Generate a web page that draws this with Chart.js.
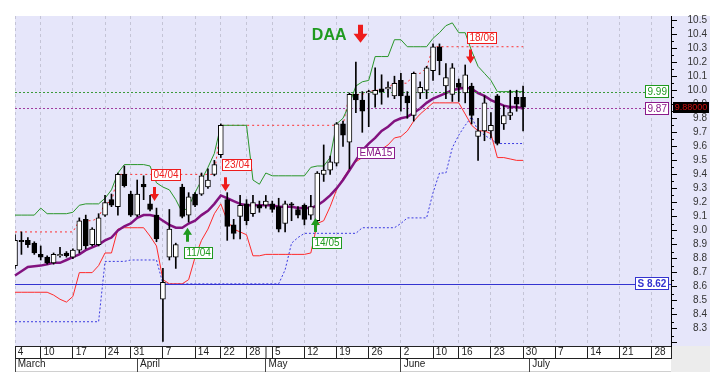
<!DOCTYPE html>
<html><head><meta charset="utf-8">
<script src="https://cdn.jsdelivr.net/npm/chart.js@4.4.1/dist/chart.umd.min.js"></script>
<style>html,body{margin:0;padding:0;background:#fff;overflow:hidden}</style>
</head><body>
<canvas id="c" width="724" height="383"></canvas>
<script>
// ---------- categories (trading days, 2014) ----------
const dates = [
 '03-04','03-05','03-06','03-07','03-10','03-11','03-12','03-13','03-14','03-17','03-18','03-19','03-20','03-21','03-24','03-25','03-26','03-27','03-31',
 '04-01','04-02','04-03','04-04','04-07','04-08','04-09','04-10','04-11','04-14','04-15','04-16','04-17','04-22','04-23','04-24','04-25','04-28','04-29','04-30',
 '05-02','05-05','05-06','05-07','05-08','05-09','05-12','05-13','05-14','05-15','05-16','05-19','05-20','05-21','05-22','05-23','05-26','05-27','05-28','05-29','05-30',
 '06-02','06-03','06-04','06-05','06-06','06-10','06-11','06-12','06-13','06-16','06-17','06-18','06-19','06-20','06-23','06-24','06-25','06-26','06-27','06-30',
 '07-01','07-02','07-03','07-04','07-07','07-08','07-09','07-10','07-11','07-14','07-15','07-16','07-17','07-18','07-21','07-22','07-23','07-24','07-25','07-28','07-29','07-30','07-31'
];
const weekTicks = ['03-04','03-10','03-17','03-24','03-31','04-07','04-14','04-22','04-28','05-05','05-12','05-19','05-26','06-02','06-10','06-16','06-23','06-30','07-07','07-14','07-21','07-28'];
const extraSeparators = ['05-02'];
const monthStarts = ['03-04','04-01','05-02','06-02','07-01'];
const monthNames = ['March','April','May','June','July'];
const yTicks = [8.2,8.3,8.4,8.5,8.6,8.7,8.8,8.9,9.0,9.1,9.2,9.3,9.4,9.5,9.6,9.7,9.8,9.9,10.0,10.1,10.2,10.3,10.4,10.5];

// ---------- price series ----------
const opens = [8.75,8.93,8.93,8.91,8.83,8.81,8.77,8.82,8.84,8.81, 8.86,9.08,8.90,8.90,9.11,9.22,9.17,9.40,9.26,9.11, 9.33,9.19,9.11,8.51,8.81,8.81,9.31,9.11,9.26,9.26, 9.31,9.40,9.54,9.22,9.04,9.10,9.19,9.12,9.18,9.18, 9.19,9.17,9.05,9.19,9.15,9.18,9.11,9.07,9.40,9.43, 9.48,9.76,9.63,9.97,9.93,9.98,9.97,10.01,10.01,9.96, 10.07,9.96,9.82,9.98,10.00,10.14,10.31,10.03,9.97,10.05, 9.98,10.03,9.67,9.71,9.71,9.96,9.76,9.82,9.95,9.95];
const highs = [8.97,8.99,8.95,8.92,8.89,8.82,8.84,8.88,8.85,8.87, 9.09,9.11,9.02,9.12,9.25,9.26,9.41,9.46,9.28,9.36, 9.39,9.25,9.16,8.73,9.15,8.91,9.33,9.27,9.27,9.41, 9.44,9.50,9.76,9.27,9.08,9.25,9.22,9.25,9.21,9.25, 9.21,9.23,9.21,9.20,9.17,9.19,9.25,9.42,9.61,9.53, 9.77,9.78,9.98,10.20,9.99,10.00,10.16,10.11,10.06,10.10, 10.12,9.99,10.13,10.06,10.17,10.33,10.33,10.19,10.19,10.08, 10.18,10.05,9.80,9.96,9.84,9.97,9.89,10.00,10.00,10.03];
const lows = [8.73,8.83,8.88,8.83,8.79,8.76,8.76,8.81,8.81,8.80, 8.84,8.87,8.89,8.89,9.10,9.17,9.11,9.31,9.10,9.10, 9.22,9.14,8.92,8.21,8.79,8.73,9.09,9.06,9.17,9.25, 9.30,9.39,9.52,8.93,8.94,8.94,9.04,9.10,9.13,9.16, 9.13,8.99,8.99,9.07,9.09,9.04,9.08,9.05,9.35,9.40, 9.46,9.60,9.44,9.84,9.70,9.74,9.88,9.90,9.95,9.94, 9.85,9.80,9.78,9.94,9.94,10.07,10.11,9.94,9.92,9.92, 9.91,9.76,9.50,9.64,9.66,9.61,9.72,9.79,9.85,9.71];
const closes = [8.93,8.92,8.90,8.84,8.81,8.77,8.83,8.83,8.82,8.86, 9.07,8.89,9.01,9.09,9.20,9.18,9.40,9.32,9.11,9.26, 9.31,9.15,8.94,8.63,9.01,8.90,9.10,9.24,9.18,9.39, 9.36,9.47,9.75,9.03,8.98,9.18,9.07,9.20,9.16,9.21, 9.15,9.01,9.19,9.18,9.11,9.08,9.17,9.41,9.43,9.49, 9.76,9.68,9.97,9.93,9.85,9.99,10.00,9.99,10.02,10.05, 9.96,9.91,10.12,10.02,10.16,10.31,10.21,10.09,10.16,10.02, 10.11,9.82,9.71,9.91,9.75,9.62,9.82,9.84,9.90,9.88];

// ---------- indicator series ----------
const ema15 = [8.68,8.71,8.74,8.745,8.75,8.76,8.77,8.77,8.79,8.81, 8.83,8.86,8.88,8.90,8.93,8.95,9.00,9.03,9.05,9.09, 9.11,9.11,9.10,9.07,9.04,9.02,9.02,9.05,9.07,9.11, 9.14,9.19,9.25,9.23,9.21,9.19,9.18,9.18,9.18,9.18, 9.18,9.17,9.17,9.17,9.16,9.16,9.16,9.18,9.21,9.25, 9.30,9.36,9.43,9.50,9.57,9.62,9.66,9.71,9.74,9.78, 9.80,9.81,9.84,9.87,9.91,9.94,9.96,9.98,10.00,10.01, 10.02,10.01,9.98,9.96,9.93,9.91,9.89,9.88,9.88,9.87];
const upperBand = [9.11,9.11,9.11,9.11,9.16,9.12,9.12,9.12,9.12,9.13, 9.18,9.19,9.19,9.19,9.23,9.29,9.41,9.47,9.47,9.47, 9.47,9.46,9.34,9.31,9.29,9.22,9.13,9.17,9.27,9.36, 9.45,9.55,9.75,9.75,9.75,9.75,9.75,9.36,9.33,9.41, 9.39,9.39,9.39,9.39,9.39,9.39,9.45,9.46,9.46,9.52, 9.76,9.80,9.90,10.03,10.06,10.07,10.24,10.24,10.24,10.36, 10.36,10.31,10.31,10.31,10.31,10.37,10.41,10.46,10.48,10.41, 10.41,10.28,10.17,10.12,10.07,9.99,9.99,9.99,9.99,9.99];
const lowerBand = [8.56,8.56,8.56,8.56,8.56,8.56,8.54,8.51,8.49,8.53, 8.70,8.70,8.70,8.75,8.84,8.84,9.01,9.02,9.02,9.02, 9.02,8.96,8.89,8.65,8.62,8.62,8.62,8.65,8.81,8.93, 9.01,9.12,9.19,9.07,9.01,8.99,8.97,8.82,8.82,8.83, 8.83,8.83,8.83,8.83,8.83,8.83,8.84,9.05,9.07,9.17, 9.29,9.37,9.44,9.49,9.52,9.54,9.56,9.58,9.61,9.66, 9.67,9.71,9.78,9.83,9.87,9.91,9.91,9.91,9.91,9.91, 9.83,9.75,9.71,9.71,9.69,9.52,9.52,9.51,9.50,9.50];
const supportLine = [8.35,8.35,8.35,8.35,8.35,8.35,8.35,8.35,8.35,8.35, 8.35,8.35,8.35,8.35,8.78,8.78,8.78,8.78,8.79,8.79, 8.79,8.79,8.79,8.62,8.62,8.62,8.62,8.62,8.62,8.62, 8.62,8.62,8.62,8.62,8.62,8.62,8.62,8.62,8.62,8.62, 8.62,8.62,8.72,8.91,8.95,8.98,8.98,8.98,8.98,8.98, 8.98,8.98,8.98,8.98,9.02,9.02,9.02,9.02,9.02,9.02, 9.05,9.09,9.09,9.09,9.09,9.27,9.41,9.41,9.59,9.68, 9.75,9.81,9.71,9.68,9.65,9.62,9.62,9.62,9.62,9.62];
const resistLine = [8.99,8.99,8.99,8.99,8.99,8.99,8.99,8.99,8.99,8.99, 9.07,9.07,9.07,9.09,9.20,9.20,9.40,9.40,9.40,9.40, 9.40,9.40,9.40,9.40,9.40,9.40,9.40,9.40,9.40,9.40, 9.40,9.40,9.75,9.75,9.75,9.75,9.75,9.75,9.75,9.75, 9.75,9.75,9.75,9.75,9.75,9.75,9.75,9.75,9.75,9.75, 9.75,9.75,9.97,9.97,9.97,9.99,10.00,10.00,10.02,10.05, 10.05,10.05,10.12,10.12,10.16,10.31,10.31,10.31,10.31,10.31, 10.31,10.31,10.31,10.31,10.31,10.31,10.31,10.31,10.31,10.31];

// ---------- levels & annotations ----------
const upperLevel = 9.99;
const emaLevel = 9.87;
const supportLevel = 8.62;
const lastPrice = 9.88;
const signals = [
  {i: 22, kind: 'sell', text: '04/04', at: 9.21},
  {i: 27, kind: 'buy',  text: '11/04', at: 9.02},
  {i: 33, kind: 'sell', text: '23/04', at: 9.28},
  {i: 47, kind: 'buy',  text: '14/05', at: 9.09},
  {i: 71, kind: 'sell', text: '18/06', at: 10.19}
];
const emaTag = {i: 53, at: 9.555, text: 'EMA15'};
const titleTag = {i: 46, at: 10.36, text: 'DAA'};

// ---------- helpers ----------
const FONT = 'Liberation Sans, Arial, sans-serif';
const weekSet = new Set(weekTicks), extraSet = new Set(extraSeparators), monthSet = new Set(monthStarts);
const isWeek = i => weekSet.has(dates[i]);
const isMonth = i => monthSet.has(dates[i]);
const RED = '#ee1c1c', GREEN = '#1f9a1f', PURPLE = '#8a1a8a', BLUE = '#3434d0';

function arrow(ctx, x, tipY, dir, len, shaftW, headW, color) {
  const hh = len * 0.5;
  ctx.fillStyle = color;
  ctx.beginPath();
  ctx.moveTo(x - shaftW / 2, tipY - dir * len);
  ctx.lineTo(x + shaftW / 2, tipY - dir * len);
  ctx.lineTo(x + shaftW / 2, tipY - dir * hh);
  ctx.lineTo(x + headW / 2, tipY - dir * hh);
  ctx.lineTo(x, tipY);
  ctx.lineTo(x - headW / 2, tipY - dir * hh);
  ctx.lineTo(x - shaftW / 2, tipY - dir * hh);
  ctx.closePath();
  ctx.fill();
}
function tag(ctx, text, left, top, h, color, font, fill) {
  ctx.font = font;
  const w = Math.round(ctx.measureText(text).width + 4);
  left = Math.round(left); top = Math.round(top);
  ctx.fillStyle = fill || '#fff';
  ctx.fillRect(left, top, w, h);
  ctx.strokeStyle = color; ctx.lineWidth = 1;
  ctx.strokeRect(left + 0.5, top + 0.5, w, h);
  ctx.fillStyle = color; ctx.textAlign = 'left'; ctx.textBaseline = 'middle';
  ctx.fillText(text, left + 2.5, top + h / 2 + 1);
  return w;
}

const bgPlugin = {
  id: 'bg',
  beforeDraw(chart) {
    const {ctx, chartArea: a} = chart;
    const xs = chart.scales.x, x2 = chart.scales.x2, ys = chart.scales.y;
    ctx.save();
    ctx.fillStyle = '#ffffff'; ctx.fillRect(0, 0, chart.width, chart.height);
    ctx.fillStyle = '#e6e6fa'; ctx.fillRect(a.left, a.top, ys.right + 3 - a.left, a.bottom - a.top);
    ctx.fillStyle = '#ffffff'; ctx.fillRect(a.left, xs.top, a.right - a.left, x2.bottom - xs.top);
    ctx.fillStyle = '#ececec'; ctx.fillRect(a.right, xs.top, ys.right + 3 - a.right, x2.bottom - xs.top);
    ctx.strokeStyle = '#222'; ctx.lineWidth = 1;
    ctx.beginPath(); ctx.moveTo(a.right + 0.5, xs.top); ctx.lineTo(a.right + 0.5, xs.bottom); ctx.stroke();
    ctx.strokeStyle = '#d0d0d0';
    ctx.beginPath(); ctx.moveTo(a.left, x2.bottom - 0.5); ctx.lineTo(a.right, x2.bottom - 0.5); ctx.stroke();
    ctx.restore();
  },
  beforeDatasetDraw(chart, args) {
    if (args.index !== 1) return; // level lines just below the candles
    const {ctx, chartArea: a} = chart;
    const ys = chart.scales.y;
    const lvl = (v, color, dash) => {
      const y = Math.round(ys.getPixelForValue(v)) + 0.5;
      ctx.strokeStyle = color; ctx.lineWidth = 1; ctx.setLineDash(dash);
      ctx.beginPath(); ctx.moveTo(a.left, y); ctx.lineTo(a.right, y); ctx.stroke();
    };
    ctx.save();
    ctx.beginPath(); ctx.rect(a.left, a.top, a.right - a.left, a.bottom - a.top); ctx.clip();
    lvl(upperLevel, '#3a9a3a', [2, 2]);
    lvl(emaLevel, '#a03ca0', [2, 2]);
    lvl(supportLevel, BLUE, []);
    ctx.restore();
  },
  afterDatasetsDraw(chart) {
    const {ctx, chartArea: a} = chart;
    const xs = chart.scales.x, ys = chart.scales.y;
    ctx.save();
    signals.forEach(s => {
      const x = Math.round(xs.getPixelForValue(s.i)) - 1.5;
      const tip = ys.getPixelForValue(s.at);
      const f = '10px ' + FONT;
      if (s.kind === 'sell') {
        arrow(ctx, x, tip, 1, 14, 3, 9, RED);
        tag(ctx, s.text, x - 4, tip - 14 - 6 - 12, 11, RED, f);
      } else {
        arrow(ctx, x, tip, -1, 14, 3, 9, GREEN);
        tag(ctx, s.text, x - 4, tip + 14 + 5, 11, GREEN, f);
      }
    });
    tag(ctx, emaTag.text, xs.getPixelForValue(emaTag.i) + 1, ys.getPixelForValue(emaTag.at) - 6, 11, PURPLE, '10px ' + FONT);
    const tx = xs.getPixelForValue(titleTag.i) + 1, ty = ys.getPixelForValue(titleTag.at);
    ctx.font = 'bold 16px ' + FONT; ctx.fillStyle = GREEN; ctx.textAlign = 'left'; ctx.textBaseline = 'alphabetic';
    ctx.fillText(titleTag.text, tx, ty);
    const tw = ctx.measureText(titleTag.text).width;
    arrow(ctx, tx + tw + 14, ty + 3, 1, 18, 5, 14, RED);
    const right = a.right - 3;
    const rtag = (text, v, color, font) => {
      ctx.font = font;
      const w = Math.round(ctx.measureText(text).width + 4);
      tag(ctx, text, right - w, ys.getPixelForValue(v) - 6.5, 12, color, font);
    };
    rtag(upperLevel.toFixed(2), upperLevel, GREEN, '10px ' + FONT);
    rtag(emaLevel.toFixed(2), emaLevel, PURPLE, '10px ' + FONT);
    rtag('S ' + supportLevel.toFixed(2), supportLevel, BLUE, 'bold 10px ' + FONT);
    // last price box on the axis
    const py = Math.round(ys.getPixelForValue(lastPrice));
    const bx = a.right + 2, bw = ys.right - a.right;
    ctx.fillStyle = '#000'; ctx.fillRect(bx, py - 5, bw, 11);
    ctx.font = '9px ' + FONT; ctx.fillStyle = '#d01010'; ctx.textAlign = 'center'; ctx.textBaseline = 'middle';
    ctx.fillText(lastPrice.toFixed(5), bx + bw / 2, py + 1);
    // minor ticks on price axis
    ctx.strokeStyle = '#000'; ctx.lineWidth = 1;
    for (let k = 0; k < yTicks.length - 1; k++) {
      const mv = (yTicks[k] + yTicks[k + 1]) / 2;
      const y = Math.round(ys.getPixelForValue(mv)) + 0.5;
      ctx.beginPath(); ctx.moveTo(a.right, y); ctx.lineTo(a.right + 3, y); ctx.stroke();
    }
    ctx.restore();
  }
};

const bodies = opens.map((o, i) => [o, closes[i]]);
const wicks = lows.map((l, i) => [l, highs[i]]);
const lineDs = (data, color, width, dash, order) => ({
  type: 'line', data, borderColor: color, borderWidth: width, borderDash: dash,
  pointRadius: 0, fill: false, tension: 0, order
});

const chart = new Chart(document.getElementById('c'), {
  type: 'bar',
  data: {
    labels: dates,
    datasets: [
      {data: bodies, order: 0, grouped: false, barThickness: 5, minBarLength: 1, borderSkipped: false, borderWidth: 1,
       borderColor: '#000', backgroundColor: c => closes[c.dataIndex] >= opens[c.dataIndex] ? '#ffffff' : '#000000'},
      {data: wicks, order: 1, grouped: false, barThickness: 1, borderWidth: 0, backgroundColor: '#000'},
      lineDs(ema15, '#82127f', 2.5, [], 2),
      lineDs(upperBand, '#2a962a', 1, [], 3),
      lineDs(lowerBand, '#ff2a2a', 1, [], 4),
      lineDs(resistLine, '#ff3030', 1, [2, 3], 5),
      lineDs(supportLine, '#3a3ae0', 1, [2, 2], 6)
    ]
  },
  options: {
    responsive: false, animation: false, devicePixelRatio: 1,
    layout: {padding: {left: 15, top: 8, right: 17, bottom: 11}},
    plugins: {legend: {display: false}, tooltip: {enabled: false}},
    scales: {
      x: {
        type: 'category', position: 'bottom', offset: false, weight: 0,
        afterFit: s => { s.height = 12; },
        grid: {offset: false, drawOnChartArea: true, tickLength: 12, color: '#c4c4d6',
               lineWidth: c => isWeek(c.index) ? 1 : 0,
               tickColor: '#222', tickWidth: c => (isWeek(c.index) || extraSet.has(dates[c.index])) ? 1 : 0},
        border: {display: true, color: '#222', dash: [3, 3]},
        ticks: {autoSkip: false, maxRotation: 0, minRotation: 0, align: 'start', padding: -12, color: '#222',
                font: {family: FONT, size: 10},
                callback: (v, i) => isWeek(i) ? ' ' + parseInt(dates[i].slice(3), 10) : ''}
      },
      x2: {
        type: 'category', position: 'bottom', offset: false, weight: 1,
        afterFit: s => { s.height = 14; },
        grid: {offset: false, drawOnChartArea: false, tickLength: 14, color: '#444',
               lineWidth: c => isMonth(c.index) ? 1 : 0, tickColor: '#444', tickWidth: c => isMonth(c.index) ? 1 : 0},
        border: {display: true, color: '#222'},
        ticks: {autoSkip: false, maxRotation: 0, minRotation: 0, align: 'start', padding: -14, color: '#222',
                font: {family: FONT, size: 10},
                callback: (v, i) => isMonth(i) ? ' ' + monthNames[monthStarts.indexOf(dates[i])] : ''}
      },
      y: {
        position: 'right', min: 8.177, max: 10.529,
        afterBuildTicks: s => { s.ticks = yTicks.map(v => ({value: v})); },
        afterFit: s => { s.width = 36; },
        grid: {drawOnChartArea: false, tickLength: 6, color: '#000', tickColor: '#000'},
        border: {display: true, color: '#000'},
        ticks: {autoSkip: false, crossAlign: 'far', padding: 10, color: '#333', font: {family: FONT, size: 10},
                callback: v => v < 8.25 ? '' : v.toFixed(1)}
      }
    }
  },
  plugins: [bgPlugin]
});
</script>
</body></html>
